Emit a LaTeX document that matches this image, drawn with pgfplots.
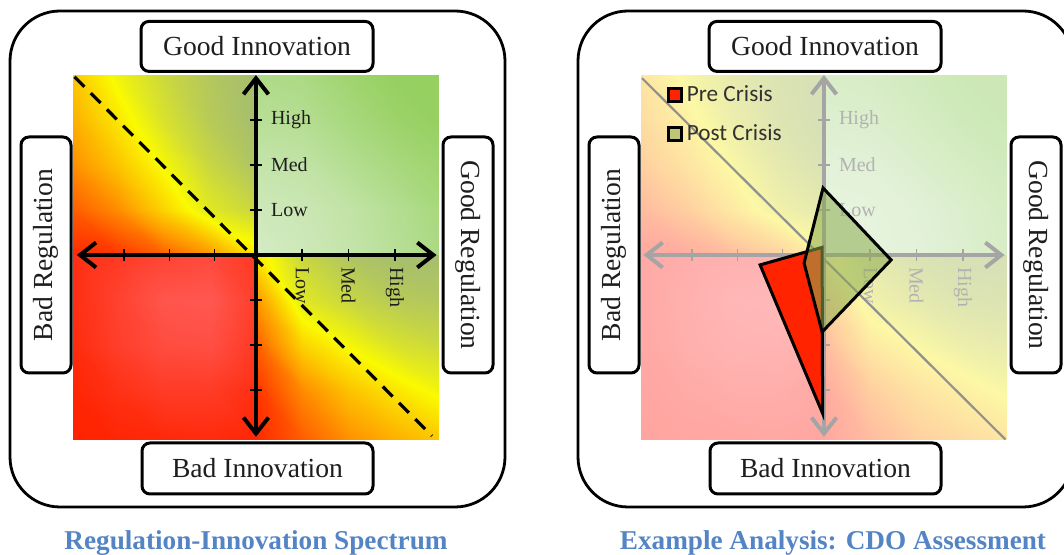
\documentclass[border=0pt]{standalone}
\usepackage{fontspec}
\setmainfont{Liberation Serif}
\newfontfamily\legendfont{Carlito}
\usepackage{pgfplots}
\usepackage{pgfplotstable}
\pgfplotsset{compat=1.18}
\usetikzlibrary{arrows.meta}

\definecolor{titleblue}{RGB}{84,132,196}
\definecolor{textdark}{RGB}{30,30,30}
\definecolor{axgray}{RGB}{165,165,165}
\definecolor{lblgray}{RGB}{178,178,178}
\definecolor{diaggray}{RGB}{145,145,145}
\definecolor{prered}{RGB}{255,35,0}
\definecolor{postgreen}{RGB}{140,172,80}
\definecolor{legtext}{RGB}{50,50,50}

\pgfplotsset{
  colormap={leftmap}{rgb255=(255,90,85) rgb255=(255,35,0) rgb255=(255,150,0) rgb255=(250,250,0) rgb255=(166,190,110) rgb255=(150,208,96) rgb255=(212,235,196)},
  colormap={rightmap}{rgb255=(255,185,185) rgb255=(255,165,160) rgb255=(255,210,160) rgb255=(252,248,165) rgb255=(214,224,182) rgb255=(205,232,182) rgb255=(234,245,228)},
}

% background shade values per quadrant (0 light red ... 6 pale green)
\pgfplotstableread{
x y z c
-3.95 0 0 1.05
-3 0 0 1.15
-2 0 0 1.5
-1 0 0 2.0
0 0 0 2.8
-3.95 1 0 1.5
-3 1 0 1.9
-2 1 0 2.6
-1 1 0 3.3
0 1 0 3.6
-3.95 2 0 1.95
-3 2 0 2.45
-2 2 0 3.05
-1 2 0 3.6
0 2 0 3.9
-3.95 3 0 2.25
-3 3 0 2.8
-2 3 0 3.4
-1 3 0 3.8
0 3 0 4.0
-3.95 4 0 2.5
-3 4 0 3.1
-2 4 0 3.55
-1 4 0 3.85
0 4 0 4.0
}\ULtab

\pgfplotstableread{
x y z c
0 -4.1 0 1.05
1 -4.1 0 1.5
2 -4.1 0 1.95
3 -4.1 0 2.25
3.95 -4.1 0 2.5
0 -3 0 1.15
1 -3 0 1.9
2 -3 0 2.45
3 -3 0 2.8
3.95 -3 0 3.1
0 -2 0 1.5
1 -2 0 2.6
2 -2 0 3.05
3 -2 0 3.4
3.95 -2 0 3.55
0 -1 0 2.0
1 -1 0 3.3
2 -1 0 3.6
3 -1 0 3.8
3.95 -1 0 3.85
0 0 0 2.8
1 0 0 3.6
2 0 0 3.9
3 0 0 4.0
3.95 0 0 4.0
}\LRtab

\pgfplotstableread{
x y z c
-3.95 -4.1 0 1.0
-3 -4.1 0 0.95
-2 -4.1 0 0.9
-1 -4.1 0 0.85
0 -4.1 0 0.95
-3.95 -3 0 0.95
-3 -3 0 0.75
-2 -3 0 0.55
-1 -3 0 0.55
0 -3 0 0.8
-3.95 -2 0 0.85
-3 -2 0 0.5
-2 -2 0 0.25
-1 -2 0 0.2
0 -2 0 0.6
-3.95 -1 0 0.8
-3 -1 0 0.45
-2 -1 0 0.1
-1 -1 0 0.05
0 -1 0 0.5
-3.95 0 0 0.8
-3 0 0 0.6
-2 0 0 0.4
-1 0 0 0.3
0 0 0 0.6
}\LLtab

\pgfplotstableread{
x y z c
0 0 0 6.0
1 0 0 5.9
2 0 0 5.75
3 0 0 5.55
3.95 0 0 5.35
0 1 0 5.9
1 1 0 5.85
2 1 0 5.7
3 1 0 5.5
3.95 1 0 5.3
0 2 0 5.75
1 2 0 5.7
2 2 0 5.5
3 2 0 5.3
3.95 2 0 5.15
0 3 0 5.55
1 3 0 5.5
2 3 0 5.3
3 3 0 5.1
3.95 3 0 5.0
0 4 0 5.4
1 4 0 5.35
2 4 0 5.15
3 4 0 5.0
3.95 4 0 5.0
}\URtab

\pgfplotsset{
  quadaxis/.style={
    anchor=south west, scale only axis, width=182.9pt, height=182.25pt,
    view={0}{90}, xmin=-3.95, xmax=3.95, ymin=-4.1, ymax=4.0, zmin=-1, zmax=1,
    hide axis, clip=false, point meta min=0, point meta max=6,
  },
  shadeplot/.style={surf, shader=interp, mesh/rows=5, mesh/cols=5, point meta=explicit, forget plot},
}

\newcommand{\boxfont}{\fontsize{13.8}{16}\selectfont}
\newcommand{\tickfont}{\fontsize{10}{12}\selectfont}
\newcommand{\titlefont}{\bfseries\fontsize{13.6}{16}\selectfont}

\begin{document}
\begin{tikzpicture}
\useasboundingbox (0pt,0pt) rectangle (532pt,277.5pt);

% ---------------- left panel ----------------
\begin{axis}[quadaxis, at={(36.55pt,57.75pt)}, colormap name=leftmap]
\addplot3[shadeplot] table[x=x,y=y,z=z,meta=c] {\ULtab};
\addplot3[shadeplot] table[x=x,y=y,z=z,meta=c] {\URtab};
\addplot3[shadeplot] table[x=x,y=y,z=z,meta=c] {\LLtab};
\addplot3[shadeplot] table[x=x,y=y,z=z,meta=c] {\LRtab};
\addplot3[black, line width=1.6pt, dash pattern=on 7pt off 4.5pt, forget plot] coordinates {(-3.92,3.96,0) (3.8,-4.02,0)};
\draw[line width=2pt, {Straight Barb[length=8pt,width=12.5pt]}-{Straight Barb[length=8pt,width=12.5pt]}] (axis cs:-3.87,0,0) -- (axis cs:3.9,0,0);
\draw[line width=2pt, {Straight Barb[length=8pt,width=12.5pt]}-{Straight Barb[length=8pt,width=12.5pt]}] (axis cs:0,-4.04,0) -- (axis cs:0,4.0,0);
\pgfplotsinvokeforeach{-2.85,-1.87,-0.9,1,2,3}{\draw[line width=0.8pt] (axis cs:#1,0,0) ++(0pt,-3pt) -- ++(0pt,6pt);}
\pgfplotsinvokeforeach{-3,-2,-1,1,2,3}{\draw[line width=0.8pt] (axis cs:0,#1,0) ++(-3pt,0pt) -- ++(6pt,0pt);}
\node[anchor=west, xshift=4pt, font=\tickfont, text=textdark] at (axis cs:0,1,0) {Low};
\node[anchor=west, xshift=4pt, font=\tickfont, text=textdark] at (axis cs:0,2,0) {Med};
\node[anchor=west, xshift=4pt, font=\tickfont, text=textdark] at (axis cs:0,3,0) {High};
\node[yshift=-2.5pt, rotate=-90, anchor=west, font=\tickfont, text=textdark] at (axis cs:1,0,0) {Low};
\node[yshift=-2.5pt, rotate=-90, anchor=west, font=\tickfont, text=textdark] at (axis cs:2,0,0) {Med};
\node[yshift=-2.5pt, rotate=-90, anchor=west, font=\tickfont, text=textdark] at (axis cs:3,0,0) {High};
\end{axis}

% ---------------- right panel ----------------
\begin{axis}[quadaxis, at={(320.55pt,57.75pt)}, colormap name=rightmap,
  legend style={at={(0.07,0.975)}, anchor=north west, draw=none, fill=none,
    font=\legendfont\fontsize{11.6}{13}\selectfont, text=legtext, inner sep=0pt,
    row sep=9pt, column sep=2pt, nodes={inner sep=0pt, text height=8.5pt, text depth=2pt}},
  legend cell align=left,
  legend image code/.code={\draw[#1, line width=1.3pt] (0pt,-3.3pt) rectangle (6.6pt,3.3pt);},
]
\addplot3[shadeplot] table[x=x,y=y,z=z,meta=c] {\ULtab};
\addplot3[shadeplot] table[x=x,y=y,z=z,meta=c] {\URtab};
\addplot3[shadeplot] table[x=x,y=y,z=z,meta=c] {\LLtab};
\addplot3[shadeplot] table[x=x,y=y,z=z,meta=c] {\LRtab};
\draw[axgray, line width=2pt, {Straight Barb[length=8pt,width=12.5pt]}-{Straight Barb[length=8pt,width=12.5pt]}] (axis cs:-3.9,0,0) -- (axis cs:3.9,0,0);
\draw[axgray, line width=2pt, {Straight Barb[length=8pt,width=12.5pt]}-{Straight Barb[length=8pt,width=12.5pt]}] (axis cs:0,-4.04,0) -- (axis cs:0,4.0,0);
\pgfplotsinvokeforeach{-2.85,-1.87,-0.9,1,2,3}{\draw[axgray, line width=0.8pt] (axis cs:#1,0,0) ++(0pt,-3pt) -- ++(0pt,6pt);}
\pgfplotsinvokeforeach{-3,-2,-1,1,2,3}{\draw[axgray, line width=0.8pt] (axis cs:0,#1,0) ++(-3pt,0pt) -- ++(6pt,0pt);}
\node[anchor=west, xshift=4pt, font=\tickfont, text=lblgray] at (axis cs:0,1,0) {Low};
\node[anchor=west, xshift=4pt, font=\tickfont, text=lblgray] at (axis cs:0,2,0) {Med};
\node[anchor=west, xshift=4pt, font=\tickfont, text=lblgray] at (axis cs:0,3,0) {High};
\node[yshift=-2.5pt, rotate=-90, anchor=west, font=\tickfont, text=lblgray] at (axis cs:1,0,0) {Low};
\node[yshift=-2.5pt, rotate=-90, anchor=west, font=\tickfont, text=lblgray] at (axis cs:2,0,0) {Med};
\node[yshift=-2.5pt, rotate=-90, anchor=west, font=\tickfont, text=lblgray] at (axis cs:3,0,0) {High};
\addplot3[diaggray, line width=1.1pt, forget plot] coordinates {(-3.93,3.93,0) (3.92,-4.1,0)};
\addplot3[fill=prered, draw=black, line width=1.5pt] coordinates {(-1.38,-0.22,0) (-0.04,0.17,0) (-0.03,-3.52,0)} -- cycle;
\addlegendentry{Pre Crisis}
\addplot3[fill=postgreen, fill opacity=0.55, draw=black, line width=1.5pt] coordinates {(-0.02,1.49,0) (1.45,-0.11,0) (-0.04,-1.71,0) (-0.43,-0.18,0)} -- cycle;
\addlegendentry{Post Crisis}
\end{axis}

% ---------------- frames and labels ----------------
\foreach \dx in {0pt,284pt}{
  \begin{scope}[xshift=\dx]
  \draw[line width=1.4pt, rounded corners=25pt] (5pt,24pt) rectangle (252.5pt,272pt);
  \draw[line width=1.5pt, rounded corners=4pt, fill=white] (70.5pt,241.8pt) rectangle (186.5pt,266.8pt);
  \node[font=\boxfont, text=textdark] at (128.5pt,254.3pt) {Good Innovation};
  \draw[line width=1.5pt, rounded corners=4pt, fill=white] (71pt,30.5pt) rectangle (186.5pt,56pt);
  \node[font=\boxfont, text=textdark] at (128.75pt,43.25pt) {Bad Innovation};
  \draw[line width=1.5pt, rounded corners=4pt, fill=white] (10.5pt,91pt) rectangle (35.5pt,209pt);
  \node[font=\boxfont, text=textdark, rotate=90] at (23pt,150pt) {Bad Regulation};
  \draw[line width=1.5pt, rounded corners=4pt, fill=white] (221.5pt,91pt) rectangle (246.5pt,209pt);
  \node[font=\boxfont, text=textdark, rotate=-90] at (234pt,150pt) {Good Regulation};
  \end{scope}
}
\node[anchor=base, font=\titlefont, text=titleblue] at (128pt,2.5pt) {Regulation-Innovation Spectrum};
\node[anchor=base, font=\titlefont, text=titleblue] at (416.5pt,2.5pt) {Example Analysis: CDO Assessment};
\end{tikzpicture}
\end{document}
